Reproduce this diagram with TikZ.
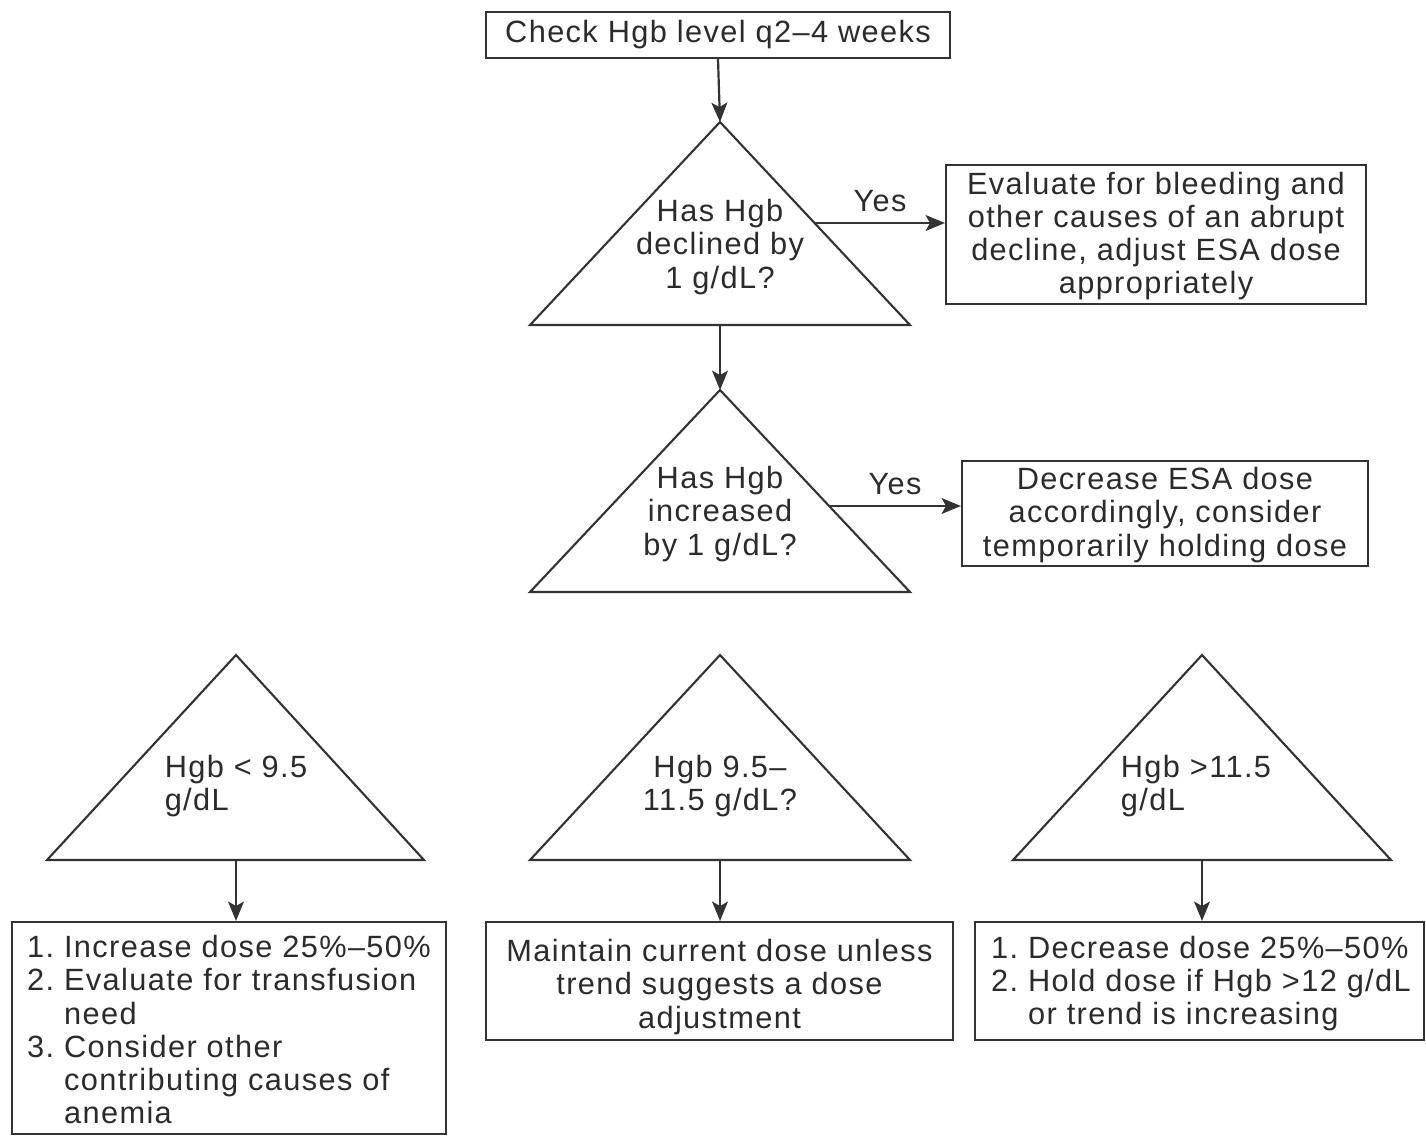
\documentclass[tikz,border=0pt]{standalone}
\usepackage{fontspec}
\setmainfont{Liberation Sans}[LetterSpace=4.5]
\usetikzlibrary{arrows.meta}
\definecolor{ink}{HTML}{2B2B2B}
\definecolor{linec}{HTML}{333333}
\begin{document}
\begin{tikzpicture}[x=0.02cm,y=-0.02cm,
  font=\fontsize{17.5}{18.9}\selectfont, text=ink,
  box/.style={draw=linec, line width=1.25pt, inner sep=0pt},
  tri/.style={draw=linec, line width=1.2pt, line join=miter},
  arr/.style={draw=linec, line width=1.25pt, -{Stealth[length=11pt,width=9pt,inset=2.5pt]}},
  txt/.style={inner sep=0pt, align=center}]
\useasboundingbox (0,0) rectangle (1426,1136);

% top box
\node[box, minimum width=9.28cm, minimum height=0.92cm] (top) at (718,35) {};
\node[txt] (topt) at (718,35) {Check Hgb level q2–4 weeks};

% triangle 1
\draw[tri] (720,122) coordinate (t1a) -- (910,325) -- (530,325) -- cycle;
\coordinate (t1b) at (720,325);
\coordinate (t1e) at (815,223);
\node[txt] (t1t) at (720,247) {Has Hgb\\declined by\\1 g/dL?};

\node[box, minimum width=8.4cm, minimum height=2.78cm] (r1) at (1156,234.5) {};
\node[txt] (r1t) at (1156,236)
  {Evaluate for bleeding and\\other causes of an abrupt\\decline, adjust ESA dose\\appropriately};
\node[txt] (yes1) at (880,201) {Yes};

% triangle 2
\draw[tri] (720,390) coordinate (t2a) -- (910,592) -- (530,592) -- cycle;
\coordinate (t2e) at (829,506);
\node[txt] (t2t) at (720,514) {Has Hgb\\increased\\by 1 g/dL?};

\node[box, minimum width=8.12cm, minimum height=2.1cm] (r2) at (1165,513.5) {};
\node[txt] (r2t) at (1165,515)
  {Decrease ESA dose\\accordingly, consider\\temporarily holding dose};
\node[txt] (yes2) at (895,484) {Yes};

% row 3 triangles
\draw[tri] (236,655) -- (424,860) -- (47,860) -- cycle;
\coordinate (t3l) at (236,860);
\node[txt, align=left] (t3lt) at (236,786) {Hgb < 9.5\\g/dL};

\draw[tri] (720,655) -- (910,860) -- (530,860) -- cycle;
\coordinate (t3m) at (720,860);
\node[txt] (t3mt) at (720,786) {Hgb 9.5–\\11.5 g/dL?};

\draw[tri] (1202,655) -- (1391,860) -- (1013,860) -- cycle;
\coordinate (t3r) at (1202,860);
\node[txt, align=left] (t3rt) at (1196,786) {Hgb >11.5\\g/dL};

% bottom boxes
\node[box, minimum width=8.68cm, minimum height=4.24cm] (lbox) at (229,1028) {};
\node[txt] (lboxt) at (229,1034)
  {\begin{tabular}{@{}l@{\ }l@{}}1. & Increase dose 25\%–50\%\\
   2. & Evaluate for transfusion\\
      & need\\
   3. & Consider other\\
      & contributing causes of\\
      & anemia\end{tabular}};
\node[box, minimum width=9.34cm, minimum height=2.36cm] (mbox) at (719.5,981) {};
\node[txt] (mboxt) at (719.5,987)
  {Maintain current dose unless\\trend suggests a dose\\adjustment};
\node[box, minimum width=8.98cm, minimum height=2.36cm] (rbox) at (1199.5,981) {};
\node[txt] (rboxt) at (1201,985)
  {\begin{tabular}{@{}l@{\ }l@{}}1. & Decrease dose 25\%–50\%\\
   2. & Hold dose if Hgb >12 g/dL\\
      & or trend is increasing\end{tabular}};

% connectors
\draw[arr] (top.south) -- (t1a);
\draw[arr] (t1e) -- (t1e -| r1.west);
\draw[arr] (t1b) -- (t2a);
\draw[arr] (t2e) -- (t2e -| r2.west);
\draw[arr] (t3l) -- (t3l |- lbox.north);
\draw[arr] (t3m) -- (t3m |- mbox.north);
\draw[arr] (t3r) -- (t3r |- rbox.north);
\end{tikzpicture}
\end{document}
